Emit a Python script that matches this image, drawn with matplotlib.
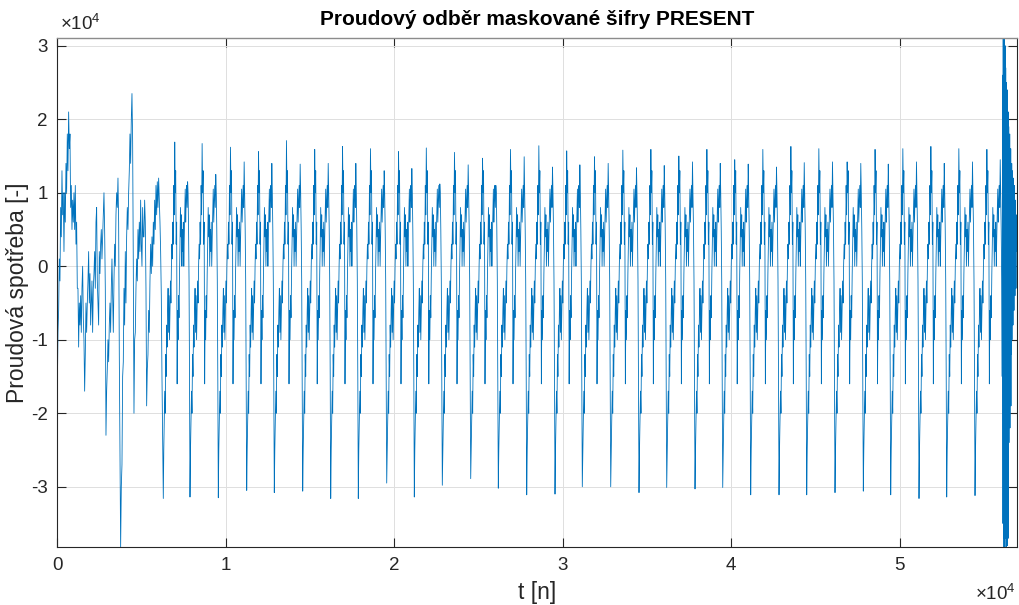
import numpy as np
import matplotlib
matplotlib.use("Agg")
import matplotlib.pyplot as plt

plt.rcParams['font.family'] = ['Liberation Sans', 'DejaVu Sans']
plt.rcParams['axes.unicode_minus'] = False
plt.rcParams['mathtext.fontset'] = 'custom'
plt.rcParams['mathtext.rm'] = 'Liberation Sans'
plt.rcParams['mathtext.it'] = 'Liberation Sans:italic'

# all amplitudes below are in units of 1e4
N_SAMPLES = 56925

# start of the trace, before the rounds settle into a steady pattern
pre_vals = [
    -1.7, -0.9, -0.6, 0.1, -0.2, 0.8, 0.4, 1.3, 0.7, 1.0, 0.2, 1.0, 0.6, 1.4, 1.0, 1.8,
    1.3, 2.1, 1.6, 1.8, 0.8, 1.1, 0.5, 0.9, 0.6, 1.0, 0.5, 1.1, 0.3, 0.6, -0.3, -0.3,
    -1.1, -0.5, -0.8, -0.4, -0.9, -0.3, 0.0, -0.7, -1.0, -1.7, -1.2, -0.5, -0.9, -0.5,
    -0.2, 0.2, -0.5, -0.1, -0.8, -0.5, -0.2, -0.9, -0.3, -0.1, 0.2, -0.3, 0.6, 0.8,
    -0.2, -0.5, -0.8, 0.2, -0.1, 0.3, 0.5, 0.1, 0.4, 0.7, 1.0, 0.5, -0.3, -2.3, -1.7,
    -1.4, -1.0, -1.3, -0.8, -0.5, -0.9, -0.3, 0.1, -0.4, -0.9, -0.2, 0.3, 0.0, 0.7,
    1.0, 0.8, 1.2, 0.6, -1.2, -2.5, -3.82, -3.0, -2.7, -1.5, -1.3, -0.3, -0.8, 0.2,
    -0.5, 0.4, 0.8, 0.5, 1.0, 1.3, 1.8, 1.4, 2.0, 2.35, 1.7, 0.0, -2.0, -1.0, -0.9,
    -0.3, 0.1, -0.2, 0.5, 0.1, 0.6, 0.2, 0.9, 0.3, 0.0, 0.8, 0.4,
    0.4, 0.9, 0.6, -0.3, -1.9, -1.4, -1.2, -0.6, -0.9, -0.2, 0.3, -0.1, 0.4, 0.0,
    0.6, 0.3, 0.9, 0.5, 1.1, 0.7, 1.15, 0.8, 1.2, 0.9, 0.6, 0.2, -0.4, -1.5, -2.4,
]

# sample index of the deep trough that opens each round
round_start = [
    6291, 7875, 9555, 11240, 12878, 14564, 16226, 17863, 19549, 21187,
    22849, 24534, 26172, 27858, 29537, 31157, 32843, 34522, 36166, 37846,
    39490, 41151, 42831, 44475, 46154, 47834, 49460, 51139, 52783, 54463,
]
round_trough = [
    -3.16, -3.14, -3.15, -3.05, -3.08, -3.06, -3.16, -3.16, -2.95, -3.14,
    -2.98, -2.89, -3.02, -3.11, -3.10, -3.00, -3.00, -3.08, -3.01, -3.03,
    -3.01, -3.11, -3.11, -3.11, -3.08, -3.06, -3.11, -3.16, -3.14, -3.12,
]
round_peak = [
    1.69, 1.67, 1.62, 1.56, 1.71, 1.59, 1.63, 1.60, 1.56, 1.61,
    1.55, 1.47, 1.59, 1.64, 1.57, 1.49, 1.58, 1.59, 1.50, 1.59,
    1.45, 1.59, 1.63, 1.60, 1.42, 1.59, 1.60, 1.63, 1.60, 1.59,
]
round_peak2 = [
    1.15, 1.25, 1.42, 1.40, 1.39, 1.40, 1.40, 1.30, 1.33, 1.12,
    1.38, 1.10, 1.49, 1.35, 1.38, 1.40, 1.34, 1.37, 1.42, 1.40,
    1.39, 1.35, 1.41, 1.42, 1.40, 1.39, 1.42, 1.40, 1.42, 1.45,
]

# shape of one round (56 points); slots 0, 24 and 51 take the per-round values
round_shape = [
    0.0, -2.5, -2.1, -1.7, -2.0, -1.2, -1.5, -0.8, -1.1, -0.6, -0.3, -0.9, -0.4, -1.0,
    -0.6, -0.2, -0.5, 0.0, 0.3, 0.1, 0.6, 0.3, 1.1, 0.7, 0.0, 1.0, 1.3, 0.3,
    0.6, -1.6, -0.6, -1.0, -0.4, -0.7, -0.1, 0.3, 0.8, 0.4, 0.7, 0.0, 0.5, 0.2,
    0.6, 0.0, 0.4, 0.7, 1.05, 0.6, 0.9, 1.1, 0.8, 0.0, 1.0, 0.5, -0.2, -1.5,
]

# burst at the end of the record
burst_start = 56106
burst_hi = [2.6, 3.11, 2.9, 3.11, 2.8, 3.0, 2.7, 2.5, 2.2, 2.4, 1.9, 2.1,
            1.9, 1.5, 1.8, 1.3, 1.6, 1.2, 1.4, 1.3, 1.0, 1.2, 0.8, 1.1, 0.6, 0.9, 0.5, 0.7]
burst_lo = [-3.5, -3.7, -3.82, -3.6, -3.82, -3.7, -3.5, -3.82, -3.6, -3.8, -3.4, -3.7,
            -2.4, -1.8, -2.2, -1.5, -1.9, -1.2, -1.0, -0.3, -0.8, -0.2, -0.6, 0.0, -0.4,
            0.1, -0.3, 0.2]

# assemble the trace
t_parts = [np.linspace(0, round_start[0], len(pre_vals), endpoint=False)]
v_parts = [np.array(pre_vals)]
for k in range(len(round_start)):
    start = round_start[k]
    end = round_start[k + 1] if k + 1 < len(round_start) else burst_start
    vals = list(round_shape)
    vals[0] = round_trough[k]
    vals[24] = round_peak[k]
    vals[51] = round_peak2[k]
    t_parts.append(start + np.arange(len(vals)) / len(vals) * (end - start))
    v_parts.append(np.array(vals))
burst = np.ravel(np.column_stack([burst_hi, burst_lo]))
t_parts.append(np.linspace(burst_start, N_SAMPLES, len(burst)))
v_parts.append(burst)

t = np.concatenate(t_parts)
v = np.concatenate(v_parts) * 1e4

fig = plt.figure(figsize=(10.19, 6.05), dpi=100)
ax = fig.add_axes([57.3 / 1019, 58 / 605, (1016.5 - 57.3) / 1019, (547 - 37.7) / 605])

ax.plot(t, v, color='#0072BD', linewidth=0.6)

ax.set_xlim(0, N_SAMPLES)
ax.set_ylim(v.min(), v.max())

ax.set_xticks(np.arange(0, 6) * 1e4)
ax.set_xticklabels([str(i) for i in range(0, 6)])
ax.set_yticks(np.arange(-3, 4) * 1e4)
ax.set_yticklabels([str(i) for i in range(-3, 4)])

ax.grid(True, color='#dfdfdf', linewidth=0.7)
ax.set_axisbelow(True)
ax.tick_params(direction='in', length=6.5, width=0.8, top=True, right=True,
               labelsize=13.5, colors='#262626', pad=7)
for side in ['left', 'bottom', 'right']:
    ax.spines[side].set_color('#262626')
    ax.spines[side].set_linewidth(0.8)
ax.spines['top'].set_color('#8c8c8c')
ax.spines['top'].set_linewidth(1.0)

ax.set_title('Proudový odběr maskované šifry PRESENT', fontsize=15, fontweight='bold', pad=9)
ax.set_xlabel('t [n]', fontsize=16.5, color='#262626', labelpad=5)
ax.set_ylabel('Proudová spotřeba [-]', fontsize=16.5, color='#262626', labelpad=1)

fig.text(60 / 1019, 1 - 24 / 605, r'$\times10^{4}$', fontsize=13.5, color='#262626', va='center', ha='left')
fig.text(1016 / 1019, 1 - 594 / 605, r'$\times10^{4}$', fontsize=13.5, color='#262626', va='center', ha='right')

fig.savefig('out.png', dpi=100)
